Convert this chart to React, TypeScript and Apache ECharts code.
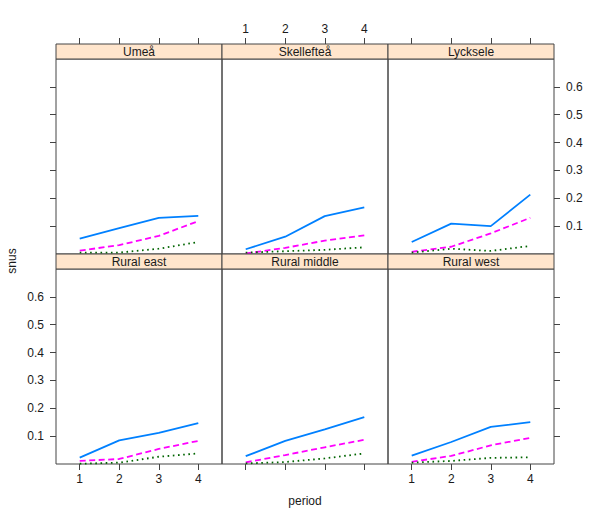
import React, { useEffect, useRef } from "react";
import * as echarts from "echarts";

const periods = [1, 2, 3, 4];
const regions = ["Umeå", "Skellefteå", "Lycksele", "Rural east", "Rural middle", "Rural west"];
// three groups per region (solid blue, dashed magenta, dotted green)
const blueValues = [
  [0.055, 0.093, 0.13, 0.137],
  [0.017, 0.062, 0.136, 0.167],
  [0.043, 0.109, 0.1, 0.213],
  [0.023, 0.085, 0.112, 0.147],
  [0.028, 0.083, 0.124, 0.168],
  [0.03, 0.079, 0.133, 0.15],
];
const magentaValues = [
  [0.012, 0.032, 0.065, 0.118],
  [0.002, 0.022, 0.048, 0.067],
  [0.008, 0.026, 0.074, 0.13],
  [0.011, 0.018, 0.054, 0.083],
  [0.006, 0.032, 0.06, 0.087],
  [0.008, 0.029, 0.067, 0.094],
];
const greenValues = [
  [0.005, 0.005, 0.019, 0.043],
  [0.005, 0.01, 0.015, 0.024],
  [0.005, 0.019, 0.011, 0.029],
  [0.001, 0.005, 0.026, 0.038],
  [0.002, 0.007, 0.02, 0.038],
  [0.005, 0.011, 0.022, 0.024],
];
const xTicks = [1, 2, 3, 4];
const yTicks = [0.1, 0.2, 0.3, 0.4, 0.5, 0.6];

const FONT = "'Liberation Sans', Arial, Helvetica, sans-serif";
const BORDER = "#444";
const TEXT = "#1a1a1a";

export default function App() {
  const ref = useRef<HTMLDivElement>(null);
  useEffect(() => {
    if (!ref.current) return;
    const chart = echarts.init(ref.current, null, { renderer: "svg" });
    const colLeft = [56, 222, 388];
    const colW = 166;
    const stripTop = [44, 254];
    const stripH = 15;
    const gridTop = [59, 269];
    const gridH = 195;

    const grids: any[] = [];
    const xAxes: any[] = [];
    const yAxes: any[] = [];
    const series: any[] = [];
    const graphics: any[] = [];

    regions.forEach((name, i) => {
      const row = Math.floor(i / 3);
      const col = i % 3;
      grids.push({
        left: colLeft[col],
        top: gridTop[row],
        width: colW,
        height: gridH,
        show: true,
        borderColor: BORDER,
        borderWidth: 1,
        backgroundColor: "transparent",
        containLabel: false,
      });
      const isTop = row === 0;
      const showXLabels = isTop ? col === 1 : col !== 1;
      xAxes.push({
        type: "value",
        gridIndex: i,
        min: 0.4,
        max: 4.6,
        position: isTop ? "top" : "bottom",
        offset: isTop ? stripH : 0,
        z: 20,
        axisLine: { show: false, onZero: false },
        splitLine: { show: false },
        axisTick: {
          show: true,
          inside: false,
          customValues: xTicks,
          length: 6,
          lineStyle: { color: BORDER, width: 1 },
        },
        axisLabel: {
          show: showXLabels,
          customValues: xTicks,
          margin: 9,
          color: TEXT,
          fontSize: 12,
          fontFamily: FONT,
        },
      });
      const hasY = col !== 1;
      const showYLabels = (col === 0 && row === 1) || (col === 2 && row === 0);
      yAxes.push({
        type: "value",
        gridIndex: i,
        min: 0,
        max: 0.7,
        position: col === 2 ? "right" : "left",
        axisLine: { show: false, onZero: false },
        splitLine: { show: false },
        axisTick: {
          show: hasY,
          customValues: yTicks,
          length: 6,
          lineStyle: { color: BORDER, width: 1 },
        },
        axisLabel: {
          show: hasY && showYLabels,
          customValues: yTicks,
          margin: 12,
          color: TEXT,
          fontSize: 12,
          fontFamily: FONT,
          formatter: (v: number) => v.toFixed(1),
        },
      });
      const mk = (vals: number[], color: string, type: any, nm: string) => ({
        type: "line",
        name: nm,
        xAxisIndex: i,
        yAxisIndex: i,
        data: periods.map((p, k) => [p, vals[k]]),
        showSymbol: false,
        symbol: "none",
        lineStyle: { color, width: 1.8, type },
        silent: true,
      });
      series.push(mk(blueValues[i], "#0080ff", "solid", "group 1"));
      series.push(mk(magentaValues[i], "#ff00ff", [6, 3.5], "group 2"));
      series.push(mk(greenValues[i], "#006400", [1.6, 3.6], "group 3"));

      graphics.push({
        type: "rect",
        shape: { x: colLeft[col], y: stripTop[row], width: colW, height: stripH },
        style: { fill: "#ffe5cc", stroke: BORDER, lineWidth: 1 },
        z: 5,
      });
      graphics.push({
        type: "text",
        x: colLeft[col] + colW / 2,
        y: stripTop[row] + stripH / 2 + 0.5,
        style: {
          text: name,
          fill: TEXT,
          fontSize: 12,
          fontFamily: FONT,
          align: "center",
          verticalAlign: "middle",
        },
        z: 6,
      });
    });

    graphics.push({
      type: "text",
      x: 12,
      y: 261,
      rotation: Math.PI / 2,
      style: {
        text: "snus",
        fill: TEXT,
        fontSize: 12,
        fontFamily: FONT,
        align: "center",
        verticalAlign: "middle",
      },
    });
    graphics.push({
      type: "text",
      x: 305,
      y: 501,
      style: {
        text: "period",
        fill: TEXT,
        fontSize: 12,
        fontFamily: FONT,
        align: "center",
        verticalAlign: "middle",
      },
    });

    chart.setOption({
      animation: false,
      backgroundColor: "#ffffff",
      grid: grids,
      xAxis: xAxes,
      yAxis: yAxes,
      series,
      graphic: graphics,
    });
    return () => chart.dispose();
  }, []);
  return (
    <div
      ref={ref}
      style={{ position: "fixed", left: 0, top: 0, width: 600, height: 518 }}
    />
  );
}
